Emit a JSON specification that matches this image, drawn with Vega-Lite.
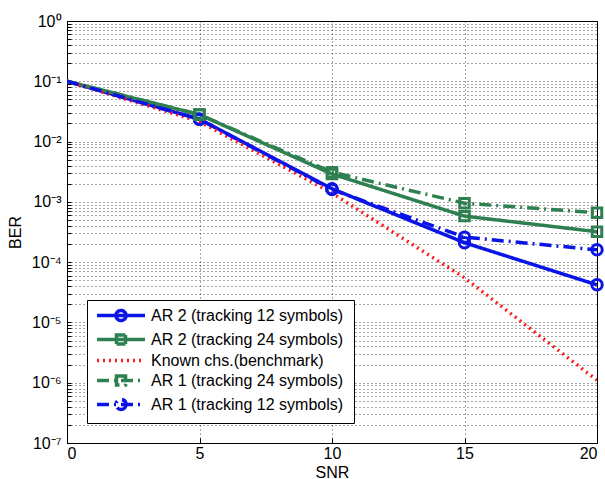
{
  "$schema": "https://vega.github.io/schema/vega-lite/v6.json",
  "width": 530,
  "height": 422,
  "autosize": "none",
  "padding": {"left": 67, "top": 21, "right": 8, "bottom": 36},
  "background": "white",
  "config": {
    "font": "Liberation Sans",
    "view": {"stroke": "black", "strokeWidth": 1},
    "axis": {
      "domainColor": "black", "tickColor": "black", "labelColor": "black", "titleColor": "black",
      "labelFont": "Liberation Sans", "titleFont": "Liberation Sans",
      "labelFontSize": 16, "titleFontSize": 16, "titleFontWeight": "normal",
      "gridColor": "black", "gridDash": [1, 3], "gridOpacity": 0.7, "gridWidth": 1
    }
  },
  "data": {
    "values": [
      {"series": "AR 2 (tracking 12 symbols)", "SNR": 0, "BER": 0.1},
      {"series": "AR 2 (tracking 12 symbols)", "SNR": 5, "BER": 0.0235},
      {"series": "AR 2 (tracking 12 symbols)", "SNR": 10, "BER": 0.00165},
      {"series": "AR 2 (tracking 12 symbols)", "SNR": 15, "BER": 0.00021},
      {"series": "AR 2 (tracking 12 symbols)", "SNR": 20, "BER": 0.000042},
      {"series": "AR 2 (tracking 24 symbols)", "SNR": 0, "BER": 0.1},
      {"series": "AR 2 (tracking 24 symbols)", "SNR": 5, "BER": 0.028},
      {"series": "AR 2 (tracking 24 symbols)", "SNR": 10, "BER": 0.0029},
      {"series": "AR 2 (tracking 24 symbols)", "SNR": 15, "BER": 0.00058},
      {"series": "AR 2 (tracking 24 symbols)", "SNR": 20, "BER": 0.00032},
      {"series": "Known chs.(benchmark)", "SNR": 0, "BER": 0.1},
      {"series": "Known chs.(benchmark)", "SNR": 5, "BER": 0.0215},
      {"series": "Known chs.(benchmark)", "SNR": 10, "BER": 0.0014},
      {"series": "Known chs.(benchmark)", "SNR": 15, "BER": 0.000055},
      {"series": "Known chs.(benchmark)", "SNR": 20, "BER": 0.0000011},
      {"series": "AR 1 (tracking 24 symbols)", "SNR": 0, "BER": 0.1},
      {"series": "AR 1 (tracking 24 symbols)", "SNR": 5, "BER": 0.028},
      {"series": "AR 1 (tracking 24 symbols)", "SNR": 10, "BER": 0.0031},
      {"series": "AR 1 (tracking 24 symbols)", "SNR": 15, "BER": 0.00095},
      {"series": "AR 1 (tracking 24 symbols)", "SNR": 20, "BER": 0.00066},
      {"series": "AR 1  (tracking 12 symbols)", "SNR": 0, "BER": 0.1},
      {"series": "AR 1  (tracking 12 symbols)", "SNR": 5, "BER": 0.0235},
      {"series": "AR 1  (tracking 12 symbols)", "SNR": 10, "BER": 0.0016},
      {"series": "AR 1  (tracking 12 symbols)", "SNR": 15, "BER": 0.00026},
      {"series": "AR 1  (tracking 12 symbols)", "SNR": 20, "BER": 0.00016}
    ]
  },
  "encoding": {
    "x": {
      "field": "SNR", "type": "quantitative", "title": "SNR",
      "scale": {"domain": [0, 20], "nice": false},
      "axis": {"values": [0, 5, 10, 15, 20], "grid": true, "tickSize": -5, "labelPadding": 7, "titlePadding": 3}
    },
    "y": {
      "field": "BER", "type": "quantitative", "title": "BER",
      "scale": {"type": "log", "domain": [1e-7, 1], "nice": false},
      "axis": {
        "values": [1e-7,2e-7,3e-7,4e-7,5e-7,6e-7,7e-7,8e-7,9e-7,1e-6,2e-6,3e-6,4e-6,5e-6,6e-6,7e-6,8e-6,9e-6,1e-5,2e-5,3e-5,4e-5,5e-5,6e-5,7e-5,8e-5,9e-5,1e-4,2e-4,3e-4,4e-4,5e-4,6e-4,7e-4,8e-4,9e-4,1e-3,2e-3,3e-3,4e-3,5e-3,6e-3,7e-3,8e-3,9e-3,1e-2,2e-2,3e-2,4e-2,5e-2,6e-2,7e-2,8e-2,9e-2,1e-1,2e-1,3e-1,4e-1,5e-1,6e-1,7e-1,8e-1,9e-1,1],
        "labelExpr": "abs(log(datum.value)/LN10 - round(log(datum.value)/LN10)) < 0.001 ? ['10⁰','10⁻¹','10⁻²','10⁻³','10⁻⁴','10⁻⁵','10⁻⁶','10⁻⁷'][-round(log(datum.value)/LN10)] : ''",
        "grid": true, "tickSize": -4, "labelPadding": 10, "titlePadding": 8
      }
    },
    "color": {
      "field": "series", "type": "nominal",
      "scale": {
        "domain": ["AR 2 (tracking 12 symbols)", "AR 2 (tracking 24 symbols)", "Known chs.(benchmark)", "AR 1 (tracking 24 symbols)", "AR 1  (tracking 12 symbols)"],
        "range": ["#0a14e6", "#2e8050", "#ff1a1a", "#2e8050", "#0a14e6"]
      }
    }
  },
  "layer": [
    {
      "mark": {"type": "line", "clip": true},
      "encoding": {
        "strokeDash": {
          "field": "series", "type": "nominal",
          "scale": {
            "domain": ["AR 2 (tracking 12 symbols)", "AR 2 (tracking 24 symbols)", "Known chs.(benchmark)", "AR 1 (tracking 24 symbols)", "AR 1  (tracking 12 symbols)"],
            "range": [[1, 0], [1, 0], [2, 4], [12, 5, 2, 5], [12, 5, 2, 5]]
          }
        },
        "strokeWidth": {
          "field": "series", "type": "nominal", "legend": null,
          "scale": {
            "domain": ["AR 2 (tracking 12 symbols)", "AR 2 (tracking 24 symbols)", "Known chs.(benchmark)", "AR 1 (tracking 24 symbols)", "AR 1  (tracking 12 symbols)"],
            "range": [3.5, 3.5, 2, 3.5, 3.5]
          }
        },
        "color": {
          "field": "series", "type": "nominal",
          "legend": {
            "title": null, "orient": "bottom-left", "offset": 20,
            "fillColor": "white", "strokeColor": "black", "padding": 6,
            "labelFontSize": 16, "labelColor": "black", "labelFont": "Liberation Sans",
            "symbolType": "stroke",
            "symbolSize": 225, "symbolStrokeWidth": 3.5, "labelLimit": 400, "rowPadding": 0, "labelOffset": 39,
            "encode": {
              "symbols": {
                "update": {
                  "shape": {"signal": "indexof(['AR 2 (tracking 12 symbols)','AR 1  (tracking 12 symbols)'], datum.value) >= 0 ? 'M-3.2,0L3.2,0M0.67,0A0.67,0.67,0,1,1,-0.67,0A0.67,0.67,0,1,1,0.67,0' : (indexof(['AR 2 (tracking 24 symbols)','AR 1 (tracking 24 symbols)'], datum.value) >= 0 ? 'M-3.2,0L3.2,0M-0.6,-0.6L0.6,-0.6L0.6,0.6L-0.6,0.6Z' : 'M-3.2,0L3.2,0')"},
                  "x": {"value": 28},
                  "fillOpacity": {"value": 0}
                }
              }
            }
          }
        }
      }
    },
    {
      "transform": [{"filter": "datum.SNR > 0 && (datum.series == 'AR 2 (tracking 12 symbols)' || datum.series == 'AR 1  (tracking 12 symbols)')"}],
      "mark": {"type": "point", "shape": "circle", "filled": false, "strokeWidth": 3, "size": 110, "opacity": 1, "clip": false},
      "encoding": {"color": {"field": "series", "type": "nominal", "legend": null}}
    },
    {
      "transform": [{"filter": "datum.SNR > 0 && (datum.series == 'AR 2 (tracking 24 symbols)' || datum.series == 'AR 1 (tracking 24 symbols)')"}],
      "mark": {"type": "point", "shape": "square", "filled": false, "strokeWidth": 3, "size": 90, "opacity": 1, "clip": false},
      "encoding": {"color": {"field": "series", "type": "nominal", "legend": null}}
    }
  ]
}
